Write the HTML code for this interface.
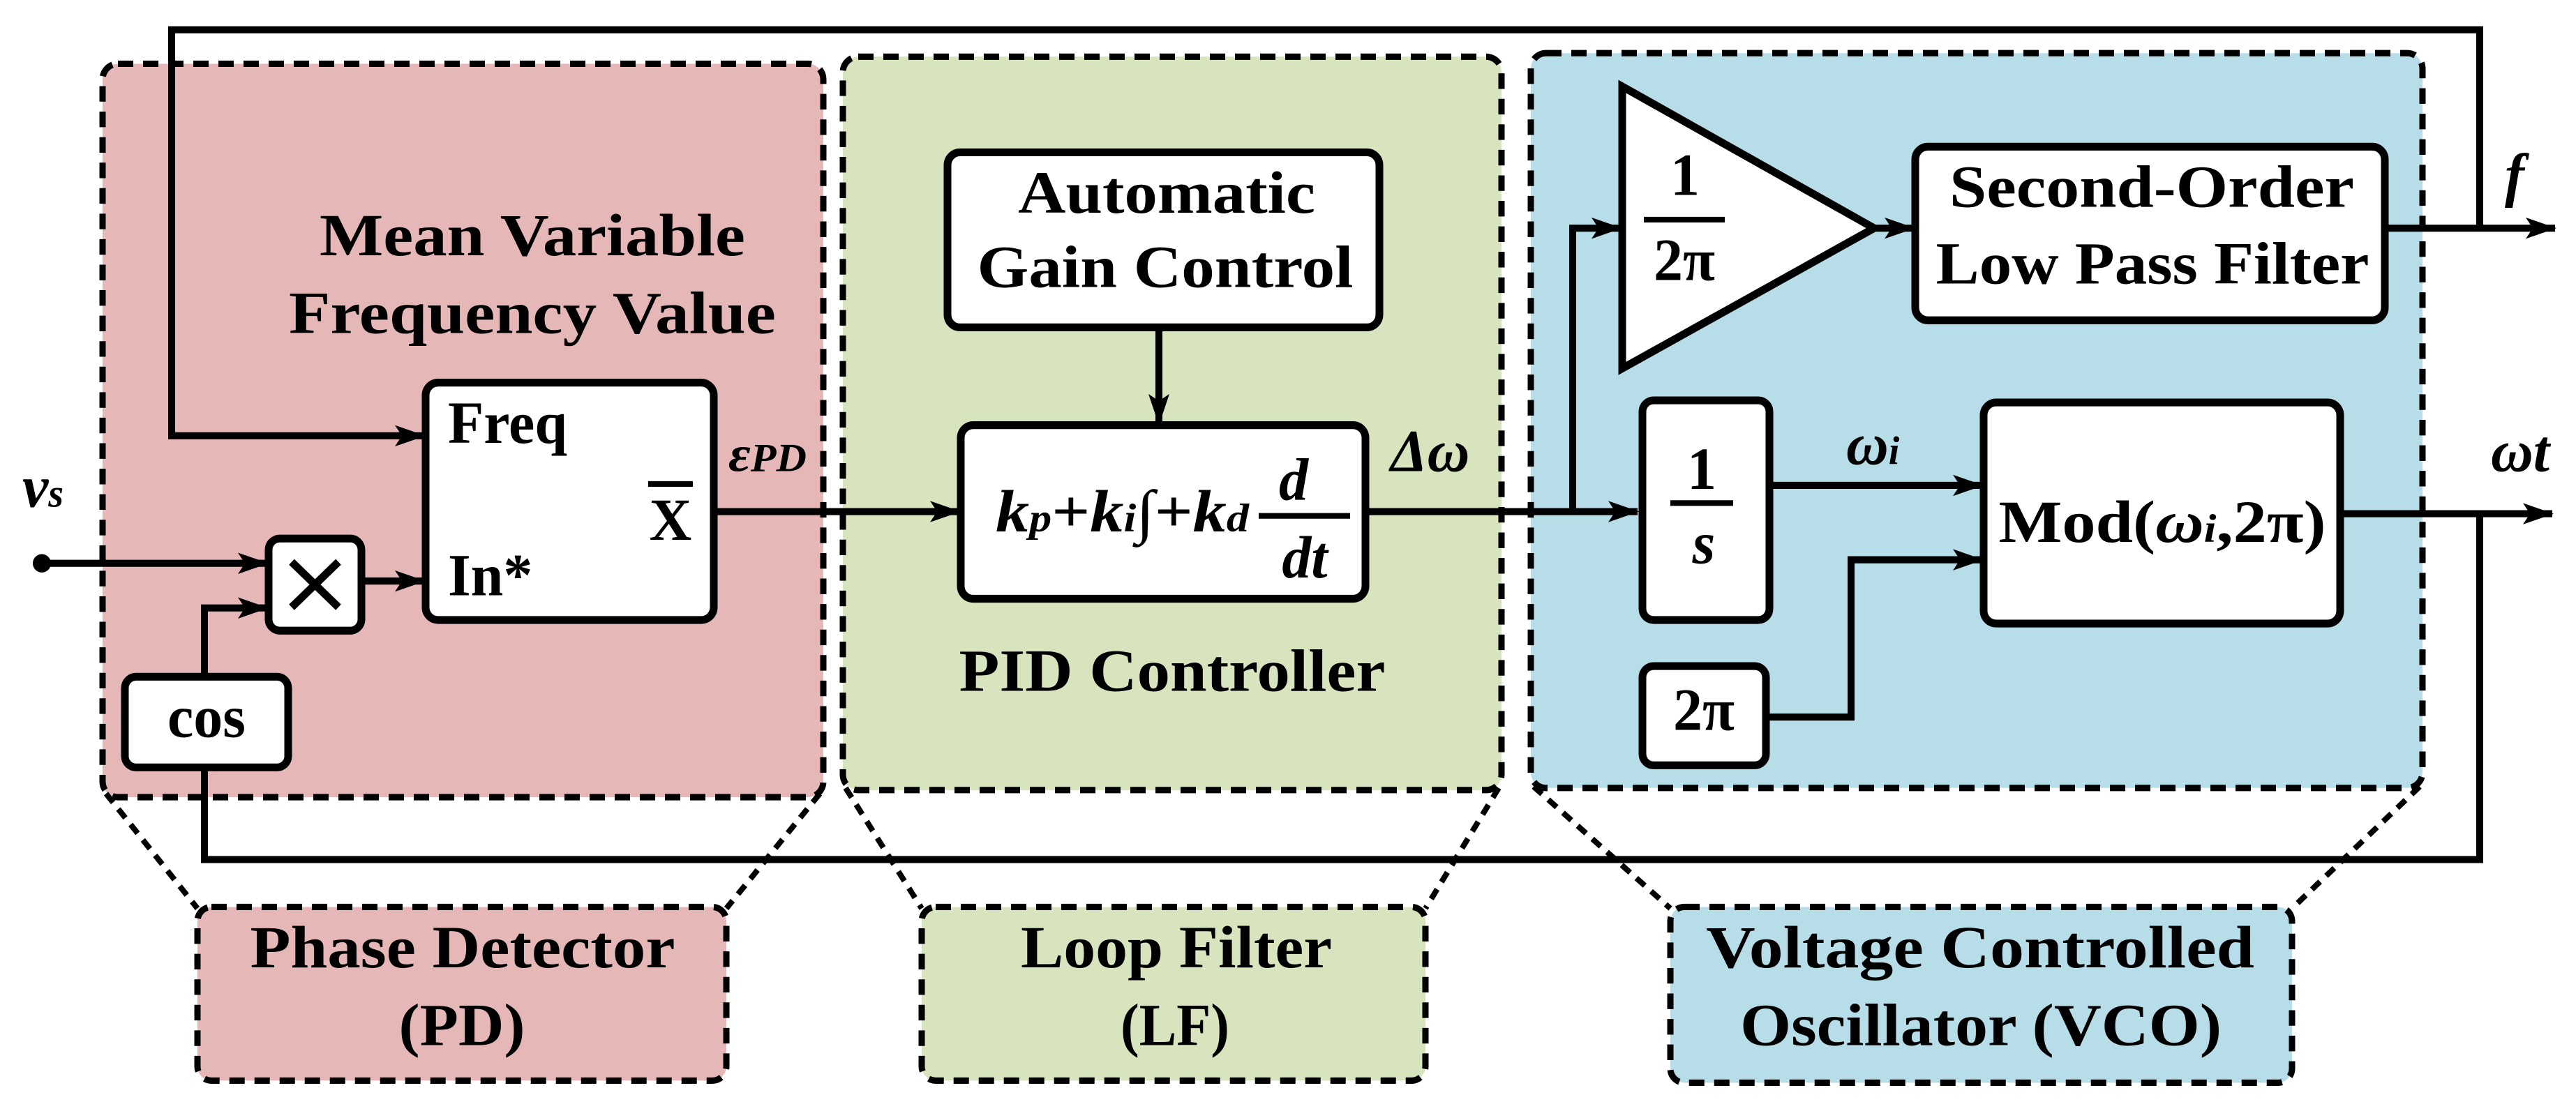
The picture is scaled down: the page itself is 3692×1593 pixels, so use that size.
<!DOCTYPE html>
<html><head><meta charset="utf-8"><style>html,body{margin:0;padding:0;background:#fff}svg{display:block}</style></head>
<body>
<svg width="3692" height="1593" viewBox="0 0 3692 1593" xmlns="http://www.w3.org/2000/svg" font-family="'Liberation Serif', serif" font-weight="bold">
<defs>
<marker id="a" markerUnits="userSpaceOnUse" markerWidth="44" markerHeight="34" refX="42" refY="17" orient="auto"><path d="M0,2 L44,17 L0,32 L10,17 Z" fill="#000"/></marker>
</defs>
<g transform="scale(1,1.016)">
<!-- regions -->
<g stroke="#000" stroke-width="9" stroke-dasharray="22 14">
<rect x="147" y="90" width="1033" height="1035" rx="22" fill="#e5b8b7"/>
<rect x="1208" y="80" width="944" height="1035" rx="22" fill="#d7e4bd"/>
<rect x="2194" y="75" width="1278" height="1037" rx="22" fill="#b7dde8"/>
<rect x="283" y="1280" width="758" height="245" rx="20" fill="#e5b8b7"/>
<rect x="1321" y="1280" width="722" height="245" rx="20" fill="#d7e4bd"/>
<rect x="2394" y="1280" width="891" height="248" rx="20" fill="#b7dde8"/>
<path d="M152,1120 L283,1282 M1175,1120 L1041,1282 M1212,1112 L1321,1282 M2148,1112 L2043,1282 M2198,1110 L2394,1282 M3468,1110 L3285,1282" fill="none" stroke-dasharray="16 12" stroke-width="8"/>
</g>
<!-- lines -->
<g stroke="#000" stroke-width="10" fill="none" stroke-linejoin="miter">
<path d="M3554,322 L3554,42 L246,42 L246,615 L608,615" marker-end="url(#a)"/>
<path d="M60,795 L383,795" marker-end="url(#a)"/>
<path d="M293,955 L293,858 L383,858" marker-end="url(#a)"/>
<path d="M518,820 L608,820" marker-end="url(#a)"/>
<path d="M293,1083 L293,1213 L3554,1213 L3554,725"/>
<path d="M1023,722 L1375,722" marker-end="url(#a)"/>
<path d="M1661,462 L1661,598" marker-end="url(#a)"/>
<path d="M1957,722 L2347,722" marker-end="url(#a)"/>
<path d="M2254,722 L2254,322 L2323,322" marker-end="url(#a)"/>
<path d="M2686,322 L2743,322" marker-end="url(#a)"/>
<path d="M3418,322 L3662,322" marker-end="url(#a)"/>
<path d="M2536,685 L2841,685" marker-end="url(#a)"/>
<path d="M2531,1012 L2653,1012 L2653,790 L2841,790" marker-end="url(#a)"/>
<path d="M3354,725 L3658,725" marker-end="url(#a)"/>
</g>
<circle cx="60" cy="795" r="13" fill="#000"/>
<!-- blocks -->
<g stroke="#000" stroke-width="11" fill="#fff">
<rect x="610" y="540" width="413" height="335" rx="18"/>
<rect x="385" y="760" width="133" height="130" rx="16"/>
<rect x="179" y="955" width="234" height="128" rx="16"/>
<rect x="1358" y="215" width="619" height="247" rx="18"/>
<rect x="1377" y="600" width="580" height="245" rx="18"/>
<path d="M2325,122 L2686,322 L2325,520 Z" stroke-linejoin="miter"/>
<rect x="2745" y="207" width="673" height="245" rx="18"/>
<rect x="2354" y="565" width="182" height="310" rx="16"/>
<rect x="2843" y="568" width="511" height="312" rx="18"/>
<rect x="2354" y="940" width="177" height="140" rx="16"/>
</g>
<path d="M418,793 L485,857 M485,793 L418,857" stroke="#000" stroke-width="11"/>
<!-- texts -->
<g font-size="84" fill="#000" text-anchor="middle">
<text x="763" y="360" textLength="610" lengthAdjust="spacingAndGlyphs">Mean Variable</text>
<text x="763" y="470" textLength="698" lengthAdjust="spacingAndGlyphs">Frequency Value</text>
<text x="1672" y="300" textLength="426" lengthAdjust="spacingAndGlyphs">Automatic</text>
<text x="1670" y="405" textLength="539" lengthAdjust="spacingAndGlyphs">Gain Control</text>
<text x="1680" y="975" textLength="611" lengthAdjust="spacingAndGlyphs">PID Controller</text>
<text x="3084" y="292" textLength="580" lengthAdjust="spacingAndGlyphs">Second-Order</text>
<text x="3085" y="400" textLength="621" lengthAdjust="spacingAndGlyphs">Low Pass Filter</text>
<text x="663" y="1365" textLength="609" lengthAdjust="spacingAndGlyphs">Phase Detector</text>
<text x="662" y="1475" textLength="181" lengthAdjust="spacingAndGlyphs">(PD)</text>
<text x="1686" y="1365" textLength="446" lengthAdjust="spacingAndGlyphs">Loop Filter</text>
<text x="1684" y="1475" textLength="156" lengthAdjust="spacingAndGlyphs">(LF)</text>
<text x="2838" y="1365" textLength="786" lengthAdjust="spacingAndGlyphs">Voltage Controlled</text>
<text x="2839" y="1475" textLength="690" lengthAdjust="spacingAndGlyphs">Oscillator (VCO)</text>
<text x="296" y="1040">cos</text>
<text x="2415" y="275">1</text>
<text x="2414" y="395">2π</text>
<text x="2439" y="690">1</text>
<text x="2442" y="795" font-style="italic">s</text>
<text x="2442" y="1030">2π</text>
<text x="3099" y="765" textLength="469" lengthAdjust="spacingAndGlyphs">Mod(<tspan font-style="italic">ω<tspan font-size="56">i</tspan></tspan>,2π)</text>
<text x="961" y="762">X</text>
<text x="1854" y="705" font-style="italic">d</text>
<text x="1870" y="815" font-style="italic">dt</text>
</g>
<g font-size="84" fill="#000">
<text x="642" y="625">Freq</text>
<text x="642" y="840">In*</text>
<text x="1427" y="750" font-style="italic" textLength="363" lengthAdjust="spacingAndGlyphs">k<tspan font-size="56">p</tspan><tspan font-style="normal">+</tspan>k<tspan font-size="56">i</tspan><tspan font-style="normal">∫+</tspan>k<tspan font-size="56">d</tspan></text>
<text x="1993" y="665" font-style="italic">Δω</text>
<text x="1044" y="665" font-style="italic" font-size="72" textLength="112" lengthAdjust="spacingAndGlyphs">ε<tspan font-size="56">PD</tspan></text>
<text x="32" y="715" font-style="italic">v<tspan font-size="56">s</tspan></text>
<text x="2646" y="655" font-style="italic">ω<tspan font-size="56">i</tspan></text>
<text x="3590" y="275" font-style="italic">f</text>
<text x="3570" y="665" font-style="italic">ωt</text>
</g>
<g stroke="#000" stroke-width="8">
<line x1="929" y1="683" x2="993" y2="683"/>
<line x1="2356" y1="310" x2="2472" y2="310"/>
<line x1="2394" y1="710" x2="2484" y2="710"/>
<line x1="1804" y1="728" x2="1935" y2="728"/>
</g>
</g>
</svg>
</body></html>
